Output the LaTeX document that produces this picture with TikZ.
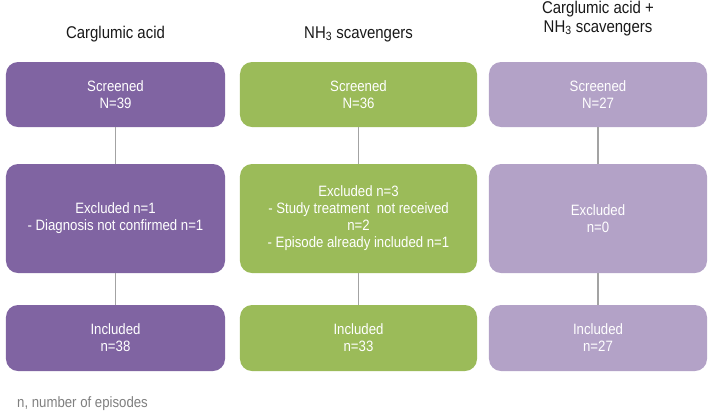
\documentclass[tikz,border=0pt]{standalone}
\usepackage{fontspec}
\setmainfont{Liberation Sans}[FakeStretch=0.88]
\usetikzlibrary{matrix,positioning}
\definecolor{cgpurple}{HTML}{8064A2}
\definecolor{scgreen}{HTML}{9BBB59}
\definecolor{bothlilac}{HTML}{B3A2C7}
\definecolor{linkgrey}{HTML}{A3A3A3}
\definecolor{notegrey}{HTML}{7F7F7F}

\begin{document}
\begin{tikzpicture}[
	box/.style={rounded corners=12pt,text=white,align=center,font=\fontsize{15}{17}\selectfont,inner sep=0pt,outer sep=0pt},
	head/.style={align=center,font=\fontsize{17}{19}\selectfont,text=black!90,inner sep=0pt},
	link/.style={draw=linkgrey,line width=1.5pt}]
			\useasboundingbox (0,0) rectangle (709pt,-413pt);
			\matrix(F)[anchor=north west,inner sep=0pt,outer sep=0pt,column sep=12pt,row sep=32pt,
				nodes={box,anchor=center},
				column 1/.style={nodes={fill=cgpurple,minimum width=219pt}},
				column 2/.style={nodes={fill=scgreen,minimum width=237pt}},
				column 3/.style={nodes={fill=bothlilac,minimum width=218pt}},
				row 1/.style={nodes={minimum height=65pt}},
				row 2/.style={nodes={minimum height=109pt}},
				row 3/.style={nodes={minimum height=66pt}}] at (6pt,-62pt) {
				\node (scr1) {Screened\\N=39};&[3pt]\node (scr2) {Screened\\N=36};&\node (scr3) {Screened\\N=27};\\[5pt]
				\node (exc1) {Excluded n=1\\- Diagnosis not confirmed n=1};&\node (exc2) {Excluded n=3\\- Study treatment\ \ not received\\n=2\\- Episode already included n=1};&\node (exc3) {Excluded\\n=0};\\
				\node (inc1) {Included\\n=38};&\node (inc2) {Included\\n=33};&\node (inc3) {Included\\n=27};\\
			};
			\node[head,above=20pt of scr1] (H1) {Carglumic acid};
			\node[head,above=20pt of scr2] (H2) {NH\textsubscript{3} scavengers};
			\node[head,above=26pt of scr3] (H3) {Carglumic acid +\\NH\textsubscript{3} scavengers};
			\node[anchor=west,inner sep=0pt,text=notegrey,font=\fontsize{15}{17}\selectfont] (key) at (17pt,-404pt) {n, number of episodes};
			\draw[link] (scr1) -- (exc1);
			\draw[link] (exc1) -- (inc1);
			\draw[link] (scr2) -- (exc2);
			\draw[link] (exc2) -- (inc2);
			\draw[link] (scr3) -- (exc3);
			\draw[link] (exc3) -- (inc3);
		\end{tikzpicture}
\end{document}
